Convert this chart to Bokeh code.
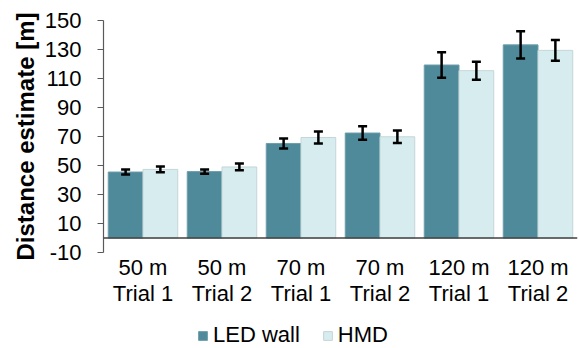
from bokeh.plotting import figure
from bokeh.layouts import column
from bokeh.models import (ColumnDataSource, FactorRange, Range1d, FixedTicker, Span,
                          Whisker, TeeHead, Legend, LegendItem, Title)
from bokeh.transform import dodge
from bokeh.embed import file_html
from bokeh.resources import INLINE

categories = ["50 m\nTrial 1", "50 m\nTrial 2", "70 m\nTrial 1", "70 m\nTrial 2",
              "120 m\nTrial 1", "120 m\nTrial 2"]
series = ["LED wall", "HMD"]
led_wall = [45.5, 45.8, 65.2, 72.4, 119.3, 133.2]
led_err = [1.7, 1.5, 3.4, 4.6, 8.8, 9.4]
hmd = [47.3, 49.0, 69.3, 69.8, 115.4, 129.4]
hmd_err = [2.0, 2.3, 4.2, 4.3, 6.2, 7.2]
y_ticks = [-10, 10, 30, 50, 70, 90, 110, 130, 150]

FONT = "Liberation Sans"
LED_COLOR = "#4F8A9B"
HMD_COLOR = "#D7ECEE"
LED_EDGE = "#6E9DAA"
HMD_EDGE = "#C5D6D8"

src = ColumnDataSource(dict(
    cats=categories,
    led=led_wall,
    led_lo=[v - e for v, e in zip(led_wall, led_err)],
    led_hi=[v + e for v, e in zip(led_wall, led_err)],
    hmd=hmd,
    hmd_lo=[v - e for v, e in zip(hmd, hmd_err)],
    hmd_hi=[v + e for v, e in zip(hmd, hmd_err)],
))

p = figure(x_range=FactorRange(*categories, range_padding=0), y_range=Range1d(-10, 150),
           frame_width=474, frame_height=232, output_backend="svg", toolbar_location=None,
           min_border_left=103, min_border_right=2, min_border_top=20, min_border_bottom=62)

bw = 0.44
bar_specs = [(-bw / 2, "led", LED_COLOR, LED_EDGE), (bw / 2, "hmd", HMD_COLOR, HMD_EDGE)]
for off, col, fc, lc in bar_specs:
    p.vbar(x=dodge("cats", off, range=p.x_range), top=col, bottom=0, width=bw,
           source=src, fill_color=fc, line_color=lc, line_width=1)

for off, lo, hi in [(-bw / 2, "led_lo", "led_hi"), (bw / 2, "hmd_lo", "hmd_hi")]:
    w = Whisker(base=dodge("cats", off, range=p.x_range), lower=lo, upper=hi, source=src,
                line_color="black", line_width=2.5, level="annotation",
                upper_head=TeeHead(size=9, line_width=2.5, line_color="black"),
                lower_head=TeeHead(size=9, line_width=2.5, line_color="black"))
    p.add_layout(w)

p.add_layout(Span(location=0, dimension="width", line_color="#404040", line_width=1.5))

p.xgrid.grid_line_color = None
p.ygrid.grid_line_color = None
p.outline_line_color = None

# y axis
p.yaxis.ticker = FixedTicker(ticks=y_ticks)
p.yaxis.major_label_overrides = {t: str(t) for t in y_ticks}
p.yaxis.major_label_text_font = FONT
p.yaxis.major_label_text_font_size = "22px"
p.yaxis.major_label_text_color = "black"
p.yaxis.major_label_standoff = 16
p.yaxis.major_tick_out = 6
p.yaxis.major_tick_in = 0
p.yaxis.minor_tick_line_color = None
p.yaxis.axis_line_color = "#595959"
p.yaxis.major_tick_line_color = "#595959"
p.yaxis.axis_line_width = 1.2

p.add_layout(Title(text="Distance estimate [m]", align="center", offset=-8,
                   text_font=FONT, text_font_style="bold", text_font_size="24px",
                   text_color="black", standoff=5), "left")

# x axis
p.xaxis.axis_line_color = None
p.xaxis.major_tick_line_color = None
p.xaxis.major_tick_out = 0
p.xaxis.major_tick_in = 0
p.xaxis.major_label_standoff = 2
p.xaxis.major_label_text_font = FONT
p.xaxis.major_label_text_font_size = "22px"
p.xaxis.major_label_text_line_height = 1.05
p.xaxis.major_label_text_color = "black"
p.xaxis.major_label_orientation = "horizontal"

# legend strip below the chart (its bars lie outside its visible y range)
lg = figure(width=579, height=34, x_range=p.x_range, y_range=Range1d(500, 501),
            output_backend="svg", toolbar_location=None,
            x_axis_type=None, y_axis_type=None, min_border=0)
lg.outline_line_color = None
keys = []
for off, col, fc, lc in bar_specs:
    keys.append(lg.vbar(x=dodge("cats", off, range=p.x_range), top=col, bottom=0, width=bw,
                        source=src, fill_color=fc, line_color=lc, line_width=1))
legend = Legend(items=[LegendItem(label=s, renderers=[r]) for s, r in zip(series, keys)],
                orientation="horizontal", location=(94, 0),
                label_text_font=FONT, label_text_font_size="22px", label_text_color="black",
                glyph_width=11, glyph_height=11, label_standoff=5, spacing=22,
                padding=0, margin=0, border_line_color=None, background_fill_alpha=0)
lg.add_layout(legend, "center")

layout = column(p, lg, spacing=0)
open("out.html", "w").write(file_html(layout, INLINE))
